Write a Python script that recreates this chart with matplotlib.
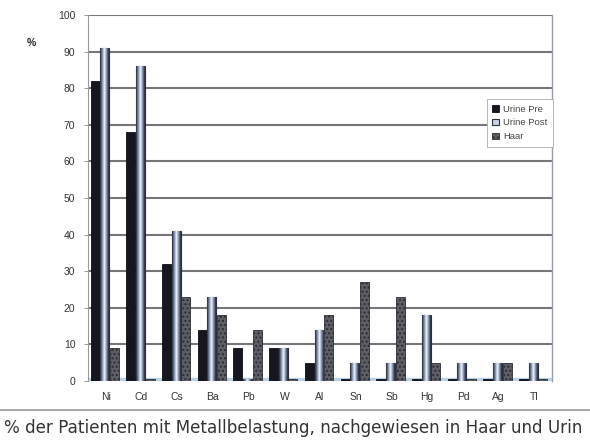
import numpy as np
import matplotlib.pyplot as plt
from matplotlib.colors import LinearSegmentedColormap

plt.rcParams['font.family'] = ['Liberation Sans', 'DejaVu Sans']

metals = ['Ni', 'Cd', 'Cs', 'Ba', 'Pb', 'W', 'Al', 'Sn', 'Sb', 'Hg', 'Pd', 'Ag', 'Tl']
urine_pre = [82, 68, 32, 14, 9, 9, 5, 0.5, 0.5, 0.5, 0.5, 0.5, 0.5]
urine_post = [91, 86, 41, 23, 0.5, 9, 14, 5, 5, 18, 5, 5, 5]
haar = [9, 0.5, 23, 18, 14, 0.5, 18, 27, 23, 5, 0.5, 5, 0.5]
series_names = ['Urine Pre', 'Urine Post', 'Haar']
yticks = list(range(0, 101, 10))

fig = plt.figure(figsize=(5.9, 4.44), dpi=100)
ax = fig.add_axes([0.149, 0.142, 0.787, 0.824])

x = np.arange(len(metals))
w = 0.25
off = 0.27

ax.bar(x - off - 0.03, urine_pre, w, color='#15161f', edgecolor='#0c0c12', lw=0.6,
       label=series_names[0], zorder=3)
post = ax.bar(x - 0.03, urine_post, w, color='#c8d4e6', edgecolor='#2a2d3a', lw=0.8,
              label=series_names[1], zorder=3)
ax.bar(x + off - 0.03, haar, w, color='#5d5e66', edgecolor='#2c2d33', lw=0.6,
       hatch='....', label=series_names[2], zorder=3)

# gradient fill for the Urine Post bars (dark - white - dark)
grad = LinearSegmentedColormap.from_list(
    'post', ['#23262f', '#7d8fb0', '#f4f7fc', '#7d8fb0', '#23262f'])
g = np.linspace(0, 1, 64).reshape(1, -1)
for b in post:
    bx, by = b.get_x(), b.get_y()
    im = ax.imshow(g, cmap=grad, aspect='auto', zorder=3.5,
                   extent=[bx, bx + b.get_width(), by, by + b.get_height()])
    im.set_clip_path(b)

ax.set_xlim(-0.5, len(metals) - 0.5)
ax.set_ylim(0, 100)
ax.set_yticks(yticks)
ax.set_yticklabels([str(t) for t in yticks], fontsize=7.5, color='#333333')
ax.set_xticks(x)
ax.set_xticklabels(metals, fontsize=7.5, color='#333333')
ax.tick_params(axis='x', length=0, pad=8)
ax.tick_params(axis='y', length=3, width=0.6, color='#888888', pad=6)

for t in yticks[1:]:
    ax.axhline(t, color='#76767a', lw=1.5, zorder=1)
ax.axhspan(0, 0.8, color='#b9d3e6', zorder=2)

for s in ['top', 'bottom']:
    ax.spines[s].set_visible(False)
ax.spines['left'].set_color('#999999')
ax.spines['left'].set_linewidth(0.8)
ax.spines['right'].set_color('#9a9ab0')
ax.spines['right'].set_linewidth(1.0)

fig.text(0.045, 0.903, '%', fontsize=7.5, color='#222222', weight='bold', va='center')

leg = ax.legend(loc='upper left', bbox_to_anchor=(0.825, 0.777),
                bbox_transform=fig.transFigure, fontsize=6.8, frameon=True,
                framealpha=1, fancybox=False, handlelength=0.7, handleheight=0.7,
                handletextpad=0.4, borderpad=0.6, labelspacing=0.5,
                borderaxespad=0)
leg.get_frame().set_edgecolor('#aaaaaa')
leg.get_frame().set_linewidth(0.6)
leg.set_zorder(5)
for txt in leg.get_texts():
    txt.set_color('#444444')

fig.add_artist(plt.Line2D([0.0, 1.0], [0.077, 0.077], color='#9a9a9a', lw=1.2,
                          transform=fig.transFigure))
fig.text(0.006, 0.035, '% der Patienten mit Metallbelastung, nachgewiesen in Haar und Urin',
         fontsize=12.1, family='DejaVu Sans', color='#333333', ha='left', va='center')

fig.savefig('out.png', dpi=100)
